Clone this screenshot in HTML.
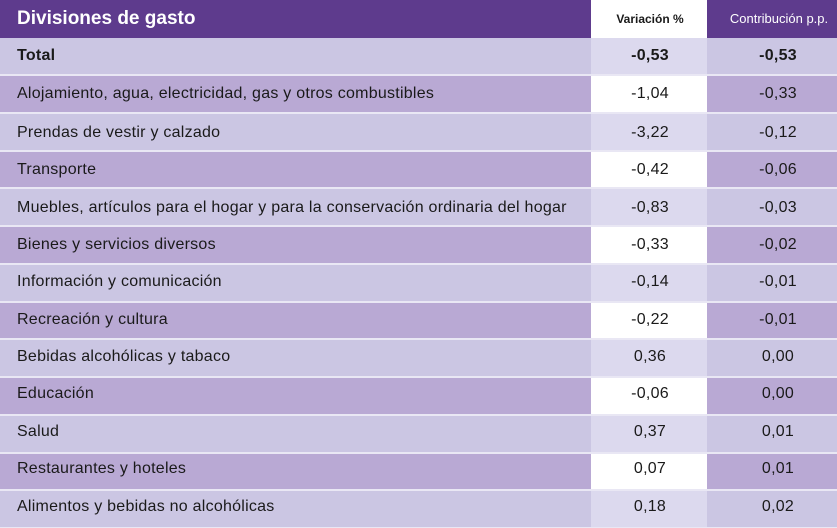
<!DOCTYPE html>
<html><head><meta charset="utf-8"><style>
html,body{margin:0;padding:0;}
body{width:837px;height:528px;position:relative;overflow:hidden;background:#ffffff;font-family:"Liberation Sans",sans-serif;color:#1a1a1a;}
.c{position:absolute;}
.h{background:#5e3b8d;}
.l1{background:#cbc6e3;}
.l2{background:#dcd9ee;}
.d1{background:#b9a9d4;}
.w{background:#ffffff;}
.sep{position:absolute;left:0;width:837px;height:2px;background:#e9e7f4;}
.t{position:absolute;font-size:16px;line-height:20px;white-space:nowrap;letter-spacing:0.25px;}
.lab{left:17px;}
.n2{left:591px;width:118px;text-align:center;}
.n3{left:708px;width:140px;text-align:center;}
</style></head><body>
<!-- header -->
<div class="c h" style="left:0;top:0;width:591px;height:37.5px"></div>
<div class="c w" style="left:591px;top:0;width:116px;height:37.5px"></div>
<div class="c h" style="left:707px;top:0;width:130px;height:37.5px"></div>
<div class="t" style="left:17px;top:8px;font-size:19px;line-height:22px;font-weight:bold;color:#fff;letter-spacing:0;">Divisiones de gasto</div>
<div class="t" style="left:591px;width:118px;text-align:center;top:11px;font-size:12px;line-height:16px;font-weight:bold;color:#1a1a1a;letter-spacing:0;">Variación %</div>
<div class="t" style="left:708px;width:142px;text-align:center;top:11px;font-size:13px;line-height:16px;color:#fff;letter-spacing:0;">Contribución p.p.</div>

<!-- rows backgrounds -->
<div class="c l1" style="left:0;top:37.5px;width:591px;height:37.73px"></div><div class="c l2" style="left:591px;top:37.5px;width:116px;height:37.73px"></div><div class="c l1" style="left:707px;top:37.5px;width:130px;height:37.73px"></div>
<div class="c d1" style="left:0;top:75.23px;width:591px;height:37.73px"></div><div class="c w" style="left:591px;top:75.23px;width:116px;height:37.73px"></div><div class="c d1" style="left:707px;top:75.23px;width:130px;height:37.73px"></div>
<div class="c l1" style="left:0;top:112.96px;width:591px;height:37.73px"></div><div class="c l2" style="left:591px;top:112.96px;width:116px;height:37.73px"></div><div class="c l1" style="left:707px;top:112.96px;width:130px;height:37.73px"></div>
<div class="c d1" style="left:0;top:150.69px;width:591px;height:37.73px"></div><div class="c w" style="left:591px;top:150.69px;width:116px;height:37.73px"></div><div class="c d1" style="left:707px;top:150.69px;width:130px;height:37.73px"></div>
<div class="c l1" style="left:0;top:188.42px;width:591px;height:37.73px"></div><div class="c l2" style="left:591px;top:188.42px;width:116px;height:37.73px"></div><div class="c l1" style="left:707px;top:188.42px;width:130px;height:37.73px"></div>
<div class="c d1" style="left:0;top:226.15px;width:591px;height:37.73px"></div><div class="c w" style="left:591px;top:226.15px;width:116px;height:37.73px"></div><div class="c d1" style="left:707px;top:226.15px;width:130px;height:37.73px"></div>
<div class="c l1" style="left:0;top:263.88px;width:591px;height:37.73px"></div><div class="c l2" style="left:591px;top:263.88px;width:116px;height:37.73px"></div><div class="c l1" style="left:707px;top:263.88px;width:130px;height:37.73px"></div>
<div class="c d1" style="left:0;top:301.61px;width:591px;height:37.73px"></div><div class="c w" style="left:591px;top:301.61px;width:116px;height:37.73px"></div><div class="c d1" style="left:707px;top:301.61px;width:130px;height:37.73px"></div>
<div class="c l1" style="left:0;top:339.34px;width:591px;height:37.73px"></div><div class="c l2" style="left:591px;top:339.34px;width:116px;height:37.73px"></div><div class="c l1" style="left:707px;top:339.34px;width:130px;height:37.73px"></div>
<div class="c d1" style="left:0;top:377.07px;width:591px;height:37.73px"></div><div class="c w" style="left:591px;top:377.07px;width:116px;height:37.73px"></div><div class="c d1" style="left:707px;top:377.07px;width:130px;height:37.73px"></div>
<div class="c l1" style="left:0;top:414.8px;width:591px;height:37.73px"></div><div class="c l2" style="left:591px;top:414.8px;width:116px;height:37.73px"></div><div class="c l1" style="left:707px;top:414.8px;width:130px;height:37.73px"></div>
<div class="c d1" style="left:0;top:452.53px;width:591px;height:37.73px"></div><div class="c w" style="left:591px;top:452.53px;width:116px;height:37.73px"></div><div class="c d1" style="left:707px;top:452.53px;width:130px;height:37.73px"></div>
<div class="c l1" style="left:0;top:490.26px;width:591px;height:37.74px"></div><div class="c l2" style="left:591px;top:490.26px;width:116px;height:37.74px"></div><div class="c l1" style="left:707px;top:490.26px;width:130px;height:37.74px"></div>

<!-- separators -->
<div class="sep" style="top:74.3px"></div>
<div class="sep" style="top:112px"></div>
<div class="sep" style="top:149.7px"></div>
<div class="sep" style="top:187.4px"></div>
<div class="sep" style="top:225.2px"></div>
<div class="sep" style="top:262.9px"></div>
<div class="sep" style="top:300.6px"></div>
<div class="sep" style="top:338.3px"></div>
<div class="sep" style="top:376.1px"></div>
<div class="sep" style="top:413.8px"></div>
<div class="sep" style="top:451.5px"></div>
<div class="sep" style="top:489.3px"></div>
<div class="sep" style="top:527px;height:1px"></div>

<!-- text -->
<div class="t lab" style="top:45.5px;font-weight:bold">Total</div>
<div class="t n2" style="top:45.5px;font-weight:bold">-0,53</div>
<div class="t n3" style="top:45.5px;font-weight:bold">-0,53</div>

<div class="t lab" style="top:83.5px">Alojamiento, agua, electricidad, gas y otros combustibles</div>
<div class="t n2" style="top:83.5px">-1,04</div>
<div class="t n3" style="top:83.5px">-0,33</div>

<div class="t lab" style="top:122.5px">Prendas de vestir y calzado</div>
<div class="t n2" style="top:122.5px">-3,22</div>
<div class="t n3" style="top:122.5px">-0,12</div>

<div class="t lab" style="top:160px">Transporte</div>
<div class="t n2" style="top:160px">-0,42</div>
<div class="t n3" style="top:160px">-0,06</div>

<div class="t lab" style="top:197.5px">Muebles, artículos para el hogar y para la conservación ordinaria del hogar</div>
<div class="t n2" style="top:197.5px">-0,83</div>
<div class="t n3" style="top:197.5px">-0,03</div>

<div class="t lab" style="top:235px">Bienes y servicios diversos</div>
<div class="t n2" style="top:235px">-0,33</div>
<div class="t n3" style="top:235px">-0,02</div>

<div class="t lab" style="top:272px">Información y comunicación</div>
<div class="t n2" style="top:272px">-0,14</div>
<div class="t n3" style="top:272px">-0,01</div>

<div class="t lab" style="top:309.5px">Recreación y cultura</div>
<div class="t n2" style="top:309.5px">-0,22</div>
<div class="t n3" style="top:309.5px">-0,01</div>

<div class="t lab" style="top:347px">Bebidas alcohólicas y tabaco</div>
<div class="t n2" style="top:347px">0,36</div>
<div class="t n3" style="top:347px">0,00</div>

<div class="t lab" style="top:384px">Educación</div>
<div class="t n2" style="top:384px">-0,06</div>
<div class="t n3" style="top:384px">0,00</div>

<div class="t lab" style="top:422px">Salud</div>
<div class="t n2" style="top:422px">0,37</div>
<div class="t n3" style="top:422px">0,01</div>

<div class="t lab" style="top:459px">Restaurantes y hoteles</div>
<div class="t n2" style="top:459px">0,07</div>
<div class="t n3" style="top:459px">0,01</div>

<div class="t lab" style="top:496.5px">Alimentos y bebidas no alcohólicas</div>
<div class="t n2" style="top:496.5px">0,18</div>
<div class="t n3" style="top:496.5px">0,02</div>
</body></html>
